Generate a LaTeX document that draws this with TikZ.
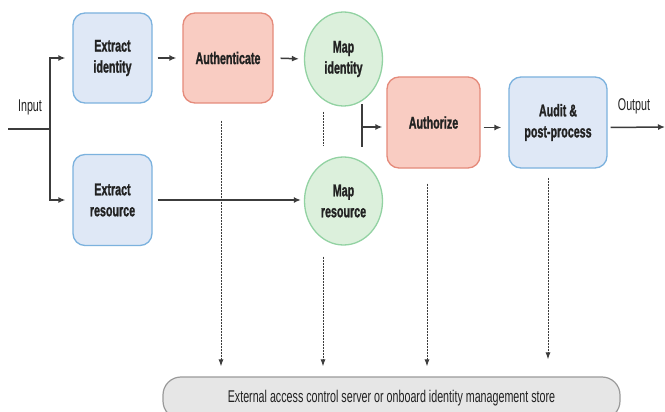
\documentclass[tikz,border=0pt]{standalone}
\usepackage{fontspec}
\newfontfamily\nar{Liberation Sans}[FakeStretch=0.63]
\newfontfamily\narb{Liberation Sans Bold}[FakeStretch=0.63,FakeBold=1.2]
\usetikzlibrary{arrows.meta,shapes.geometric,positioning}
\definecolor{bfill}{HTML}{DFE8F6}
\definecolor{bdraw}{HTML}{7CB2DE}
\definecolor{rfill}{HTML}{F9CCC2}
\definecolor{rdraw}{HTML}{E58A7A}
\definecolor{gfill}{HTML}{DCF0DC}
\definecolor{gdraw}{HTML}{92D2A2}
\definecolor{kfill}{HTML}{E6E6E6}
\definecolor{kdraw}{HTML}{9A9A9A}
\definecolor{ink}{HTML}{222222}
\definecolor{wire}{HTML}{3C3C3C}
\tikzset{
  lbl/.style={font=\narb\fontsize{17}{21}\selectfont, text=ink, align=center},
  plain/.style={font=\nar\fontsize{17}{21}\selectfont, text=ink, align=center},
  boxbase/.style={lbl, rectangle, rounded corners=12pt, line width=1.3pt, inner sep=0pt},
  bluebox/.style={boxbase, fill=bfill, draw=bdraw},
  redbox/.style={boxbase, fill=rfill, draw=rdraw},
  greenell/.style={lbl, ellipse, fill=gfill, draw=gdraw, line width=1.3pt, inner sep=0pt},
  store/.style={plain, rectangle, rounded corners=18pt, fill=kfill, draw=kdraw, line width=1.2pt, inner sep=0pt},
  flow/.style={draw=wire, line width=1.5pt, -{Latex[length=7pt,width=6pt]}},
  line/.style={draw=wire, line width=1.5pt},
  query/.style={draw=wire, line width=1pt, dash pattern=on 2pt off 1pt, -{Latex[length=7pt,width=5pt]}},
  dots/.style={draw=wire, line width=1pt, dash pattern=on 2pt off 1pt}
}
\begin{document}
\begin{tikzpicture}[x=1pt,y=-1pt]
\clip (0,0) rectangle (665,412);
\useasboundingbox (0,0) rectangle (665,412);
\fill[white] (0,0) rectangle (665,412);

\node[bluebox, minimum width=79pt, minimum height=90pt] (ei) at (112.5,58) {Extract\\identity};
\node[redbox, minimum width=90pt, minimum height=90pt] (au) at (228,58) {Authenticate};
\node[greenell, minimum width=78pt, minimum height=94pt] (mi) at (343.5,59) {Map\\identity};
\node[bluebox, minimum width=79pt, minimum height=91pt] (er) at (112.5,200) {Extract\\resource};
\node[greenell, minimum width=78pt, minimum height=88pt] (mr) at (343.5,201) {Map\\resource};
\node[redbox, minimum width=93pt, minimum height=91pt] (az) at (433.5,122.5) {Authorize};
\node[bluebox, minimum width=98pt, minimum height=91pt] (ad) at (558,122.5) {Audit \&\\post-process};
\node[store, minimum width=457pt, minimum height=42pt] (st) at (391.5,398) {External access control server or onboard identity management store};

\node[plain] (inlbl) at (30,107) {Input};
\node[plain] (outlbl) at (634,106) {Output};

% input split
\coordinate (inp) at (8,129);
\coordinate (jn) at (50,129);
\draw[line] (inp) -- (jn);
\draw[flow, shorten >=7pt] (jn) |- (ei.west);
\draw[flow, shorten >=7pt] (jn) |- (er.west);

% top chain
\draw[flow, shorten <=5pt, shorten >=6pt] (ei.east) -- (au.west);
\draw[flow, shorten <=7pt, shorten >=5pt] (au.east) -- (mi.west);
\draw[flow, line width=2.4pt, shorten <=5pt, shorten >=3pt] (er.east) -- (er.east -| mr.west);

% join to authorize
\coordinate (jt) at (362,104);
\coordinate (jb) at (362,147);
\coordinate (jm) at (362,127);
\draw[line] (jt) -- (jb);
\draw[flow, shorten >=4pt] (jm) -- (jm -| az.west);

% dotted link between map nodes
\coordinate (dt) at (323,112);
\coordinate (db) at (323,146);
\draw[dots] (dt) -- (db);

% authorize -> audit -> output
\draw[flow, shorten <=3pt, shorten >=7pt] ([yshift=-5pt]az.east) -- ([yshift=-5pt]ad.east -| ad.west);
\coordinate (outend) at (665,127);
\draw[flow, shorten <=3pt] ([yshift=-5pt]ad.east) -- (outend);

% dashed queries to store
\draw[query, shorten >=10pt] ([xshift=-7pt,yshift=-17pt]au.south) -- ([xshift=-7pt]au.south |- st.north);
\draw[query, shorten >=10pt] ([xshift=-20.5pt,yshift=-11pt]mr.south) -- ([xshift=-20.5pt]mr.south |- st.north);
\draw[query, shorten >=10pt] ([xshift=-6.5pt,yshift=-15pt]az.south) -- ([xshift=-6.5pt]az.south |- st.north);
\draw[query, shorten >=17pt] ([xshift=-10pt,yshift=-9pt]ad.south) -- ([xshift=-10pt]ad.south |- st.north);
\end{tikzpicture}
\end{document}
